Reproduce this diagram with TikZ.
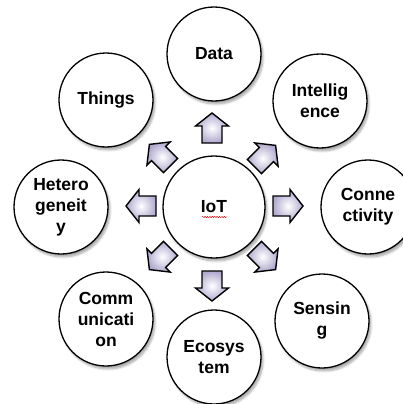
\documentclass[tikz,border=0pt]{standalone}
\usepackage{fontspec}
\setmainfont{Liberation Sans}
\usetikzlibrary{shadows.blur,decorations.pathmorphing}
\definecolor{arrowfill}{RGB}{176,168,206}
\definecolor{arrowmid}{RGB}{214,210,232}
\begin{document}
\begin{tikzpicture}[x=1pt,y=-1pt,
  topic/.style={circle, draw=black, line width=1.3pt, fill=white,
    minimum size=94pt, inner sep=0pt, align=center,
    font=\bfseries\fontsize{17.5}{21}\selectfont,
    blur shadow={shadow xshift=2pt, shadow yshift=-3pt, shadow opacity=35, shadow blur steps=6}},
  hub/.style={topic, minimum size=102pt},
  pics/flowarrow/.style={code={
    \path[draw=black, line width=1.4pt, line join=miter,
          inner color=white, outer color=arrowfill]
      (-15,-10) -- (2,-10) -- (2,-16.5) -- (15,0) -- (2,16.5) -- (2,10) -- (-15,10) -- cycle;
  }}
]
\useasboundingbox (0,0) rectangle (402,404);

% centre and surrounding topics
\node[hub]   (iot)   at (214,207) {IoT};
\node[topic] (data)  at (214,54)  {Data};
\node[topic] (intel) at (320,101) {Intellig\\ence};
\node[topic] (conn)  at (368,207) {Conne\\ctivity};
\node[topic] (sens)  at (322,321) {Sensin\\g};
\node[topic] (eco)   at (214,357) {Ecosys\\tem};
\node[topic] (comm)  at (106,319) {Comm\\unicati\\on};
\node[topic] (het)   at (61,207)  {Hetero\\geneit\\y};
\node[topic] (thing) at (106,100) {Things};

% spell-check squiggle under the hub label
\draw[red!85!black, line width=0.45pt, decorate,
      decoration={snake, amplitude=0.6pt, segment length=2.4pt}]
  (iot.center) ++(-12,10) -- ++(25,0);

% outward block arrows
\pic[rotate=90]   (aup)   at (212,128) {flowarrow};
\pic[rotate=45]   (aur)   at (265,156) {flowarrow};
\pic[rotate=0]    (ar)    at (288,206) {flowarrow};
\pic[rotate=-45]  (adr)   at (265,259) {flowarrow};
\pic[rotate=-90]  (adn)   at (212,286) {flowarrow};
\pic[rotate=-135] (adl)   at (160,259) {flowarrow};
\pic[rotate=180]  (al)    at (141,206) {flowarrow};
\pic[rotate=135]  (aul)   at (160,155) {flowarrow};
\end{tikzpicture}
\end{document}
